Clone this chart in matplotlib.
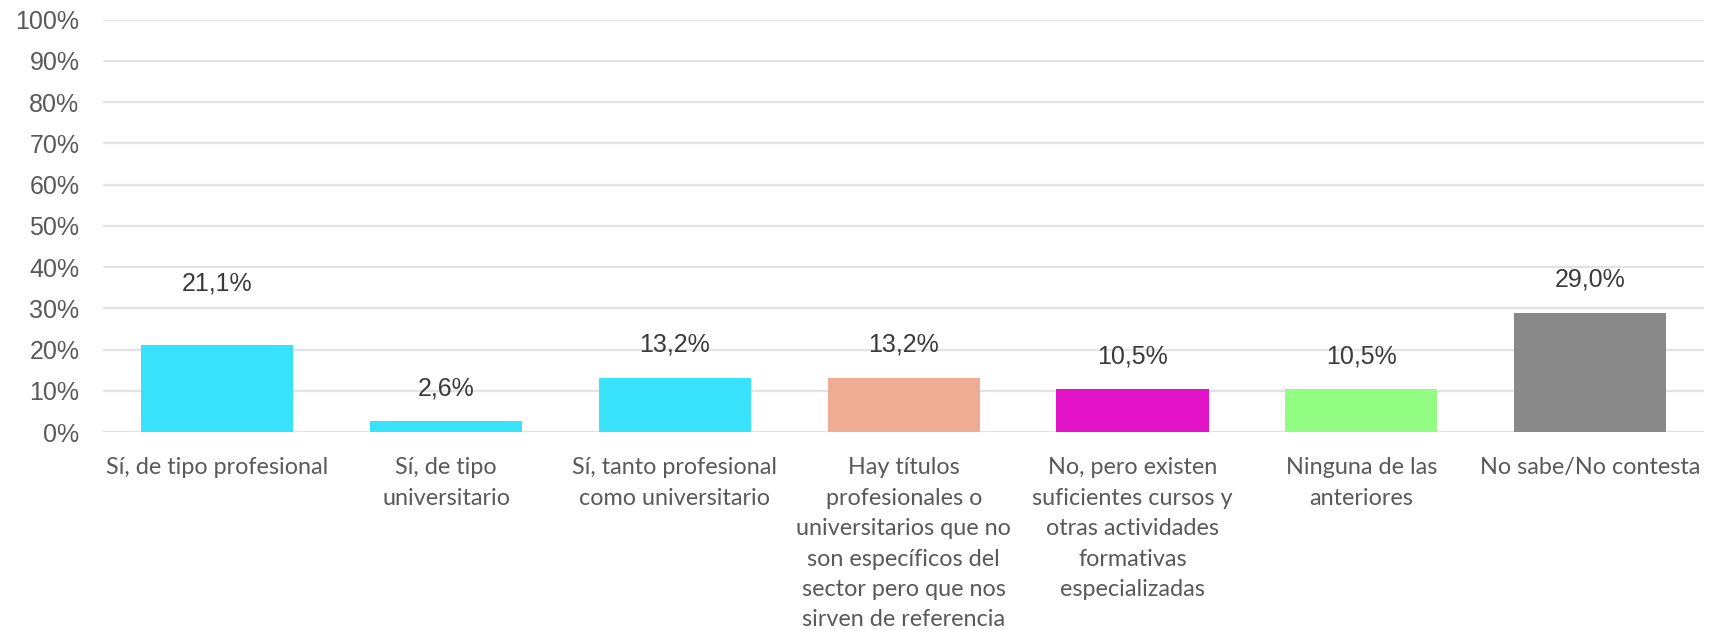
import numpy as np
import matplotlib.pyplot as plt

# === Data ===
categories = [
    "Sí, de tipo profesional",
    "Sí, de tipo\nuniversitario",
    "Sí, tanto profesional\ncomo universitario",
    "Hay títulos\nprofesionales o\nuniversitarios que no\nson específicos del\nsector pero que nos\nsirven de referencia",
    "No, pero existen\nsuficientes cursos y\notras actividades\nformativas\nespecializadas",
    "Ninguna de las\nanteriores",
    "No sabe/No contesta",
]
values = [21.1, 2.6, 13.2, 13.2, 10.5, 10.5, 29.0]
value_labels = ["21,1%", "2,6%", "13,2%", "13,2%", "10,5%", "10,5%", "29,0%"]
bar_colors = ["#38E2FA", "#38E2FA", "#38E2FA", "#EFAB93", "#E314C8", "#93FC82", "#898989"]
yticks = list(range(0, 101, 10))

# label offsets above bar top (points); the first one sits higher in the source
label_offsets = [36, 15, 15, 15, 15, 15, 15]

# === Plot ===
fig = plt.figure(figsize=(17.09, 6.30), dpi=100)
ax = fig.add_axes([0.0603, 0.314, 0.937, 0.655])

# fit category font so the first label is ~223 px wide, like the source
probe = fig.text(0, 0, categories[0], family="Lato", fontsize=16)
w = probe.get_window_extent(fig.canvas.get_renderer()).width
probe.remove()
cat_fs = 16 * 223 / w

x = np.arange(len(categories))
ax.bar(x, values, width=0.665, color=bar_colors, zorder=3)

for xi, v, lab, off in zip(x, values, value_labels, label_offsets):
    ax.annotate(lab, (xi, v), xytext=(0, off), textcoords="offset points",
                ha="center", va="bottom", fontsize=18, color="#3A3A3A",
                family="Liberation Sans")

ax.set_xlim(-0.5, len(categories) - 0.5)
ax.set_ylim(0, 100)
ax.set_yticks(yticks)
ax.set_yticklabels([f"{t}%" for t in yticks], family="Liberation Sans",
                   fontsize=18, color="#595959")
ax.set_xticks(x)
ax.set_xticklabels(categories, family="Lato", fontsize=cat_fs, color="#595959",
                   linespacing=1.65 * 15.9 / cat_fs)

ax.tick_params(axis="both", length=0)
ax.tick_params(axis="y", pad=17)
ax.tick_params(axis="x", pad=18)
ax.grid(axis="y", color="#E3E3E3", linewidth=1.6, zorder=0)
for s in ax.spines.values():
    s.set_visible(False)

fig.savefig("out.png", dpi=100)
